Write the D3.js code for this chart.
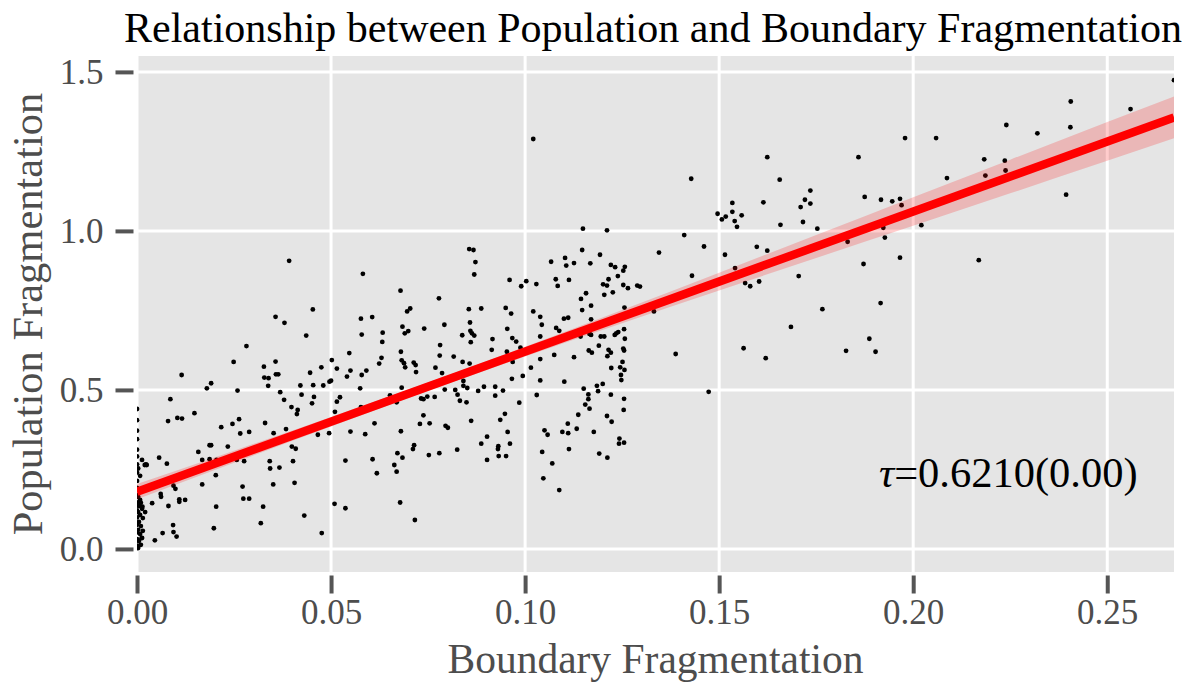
<!DOCTYPE html>
<html>
<head>
<meta charset="utf-8">
<script src="https://cdn.jsdelivr.net/npm/d3@7"></script>
<style>
  body { margin: 0; background: #fff; }
  svg { display: block; font-family: "Liberation Serif", "Times New Roman", serif; }
</style>
</head>
<body>
<svg id="chart" width="1193" height="684"></svg>
<script>
// observations: [boundary fragmentation, population fragmentation]
const points = [
  [0.0392,0.906],[0.0453,0.753],[0.0357,0.730],[0.0380,0.711],[0.0436,0.671],[0.0282,0.638],
  [0.0249,0.588],[0.0357,0.589],[0.0327,0.573],[0.0502,0.594],[0.0475,0.571],[0.0446,0.554],
  [0.0328,0.539],[0.0339,0.537],[0.0358,0.549],[0.0364,0.549],[0.0515,0.567],[0.0115,0.547],
  [0.0191,0.521],[0.0180,0.505],[0.0338,0.513],[0.0421,0.514],[0.0454,0.515],[0.0480,0.514],
  [0.0496,0.526],[0.0500,0.529],[0.0259,0.498],[0.0369,0.493],[0.0379,0.469],[0.0424,0.485],
  [0.0456,0.478],[0.0451,0.458],[0.0515,0.463],[0.0086,0.471],[0.0398,0.446],[0.0414,0.437],
  [0.0412,0.424],[0.0148,0.427],[0.0080,0.402],[0.0104,0.412],[0.0116,0.410],[0.0217,0.383],
  [0.0246,0.393],[0.0263,0.408],[0.0266,0.363],[0.0289,0.368],[0.0330,0.396],[0.0352,0.364],
  [0.0384,0.377],[0.0466,0.359],[0.0495,0.364],[0.0510,0.431],[0.0187,0.326],[0.0191,0.326],
  [0.0234,0.322],[0.0158,0.305],[0.0168,0.280],[0.0187,0.282],[0.0205,0.280],[0.0257,0.280],
  [0.0276,0.276],[0.0342,0.276],[0.0343,0.253],[0.0367,0.256],[0.0399,0.322],[0.0409,0.315],
  [0.0402,0.276],[0.0077,0.268],[0.0057,0.287],[0.0013,0.280],[0.0020,0.264],[0.0025,0.264],
  [0.0003,0.253],[0.0008,0.230],[0.0203,0.232],[0.0168,0.203],[0.0094,0.199],[0.0099,0.189],
  [0.0272,0.196],[0.0351,0.203],[0.0406,0.208],[0.0061,0.173],[0.0062,0.164],[0.0039,0.144],
  [0.0081,0.135],[0.0109,0.156],[0.0109,0.148],[0.0124,0.154],[0.0204,0.133],[0.0274,0.158],
  [0.0289,0.158],[0.0325,0.133],[0.0509,0.142],[0.0431,0.105],[0.0319,0.081],[0.0198,0.065],
  [0.0093,0.075],[0.0094,0.053],[0.0102,0.039],[0.0066,0.050],[0.0046,0.027],[0.0476,0.050],
  [0.0003,0.164],[0.0008,0.154],[0.0010,0.145],[0.0005,0.135],[0.0013,0.126],[0.0003,0.116],
  [0.0008,0.107],[0.0015,0.097],[0.0005,0.085],[0.0010,0.072],[0.0003,0.060],[0.0008,0.047],
  [0.0013,0.035],[0.0005,0.025],[0.0010,0.013],[0.0003,0.003],[0.0015,0.057],[0.0021,0.116],
  [0.0023,0.266],[0.0014,0.133],[0.0012,0.034],
  [0,0.440],[0,0.405],[0,0.372],[0,0.345],[0,0.312],[0,0.291],[0,0.266],[0,0.240],[0,0.214],
  [0,0.192],[0,0.170],[0,0.146],[0,0.121],[0,0.099],[0,0.076],[0,0.052],[0,0.031],[0,0.010],
  [0.0856,0.943],[0.0867,0.940],[0.0872,0.902],[0.0869,0.863],[0.0582,0.865],[0.0679,0.812],
  [0.0960,0.846],[0.0990,0.826],[0.1003,0.842],[0.1029,0.833],[0.0778,0.788],[0.0577,0.724],
  [0.0606,0.729],[0.0696,0.747],[0.0704,0.756],[0.0855,0.754],[0.0887,0.756],[0.0950,0.758],
  [0.0964,0.740],[0.1021,0.747],[0.0684,0.699],[0.0690,0.678],[0.0699,0.685],[0.0740,0.693],
  [0.0792,0.705],[0.0858,0.712],[0.0859,0.686],[0.0863,0.678],[0.0869,0.671],[0.0838,0.672],
  [0.0860,0.650],[0.0954,0.692],[0.0967,0.663],[0.0977,0.652],[0.0579,0.674],[0.0633,0.680],
  [0.0632,0.651],[0.0916,0.660],[0.0914,0.626],[0.0781,0.641],[0.0780,0.608],[0.0680,0.620],
  [0.0682,0.593],[0.0688,0.584],[0.0691,0.571],[0.0713,0.586],[0.0718,0.578],[0.0719,0.556],
  [0.0547,0.616],[0.0630,0.601],[0.0624,0.583],[0.0550,0.561],[0.0541,0.542],[0.0591,0.561],
  [0.0579,0.547],[0.0816,0.605],[0.0839,0.588],[0.0857,0.583],[0.0769,0.570],[0.0786,0.553],
  [0.0953,0.620],[0.0968,0.588],[0.0988,0.633],[0.1015,0.570],[0.0994,0.544],[0.0966,0.535],
  [0.0575,0.505],[0.0682,0.507],[0.0652,0.483],[0.0669,0.461],[0.0732,0.473],[0.0738,0.471],
  [0.0748,0.479],[0.0767,0.478],[0.0793,0.501],[0.0820,0.500],[0.0826,0.485],[0.0832,0.466],
  [0.0841,0.528],[0.0841,0.513],[0.0851,0.506],[0.0849,0.461],[0.0879,0.497],[0.0894,0.510],
  [0.0923,0.510],[0.0923,0.482],[0.0943,0.498],[0.1030,0.484],[0.0985,0.460],[0.0523,0.477],
  [0.0577,0.446],[0.0738,0.420],[0.0612,0.395],[0.0729,0.393],[0.0754,0.395],[0.0795,0.387],
  [0.0801,0.381],[0.0680,0.370],[0.0550,0.369],[0.0588,0.361],[0.0861,0.403],[0.0936,0.406],
  [0.0948,0.425],[0.0955,0.368],[0.0961,0.331],[0.0902,0.353],[0.0887,0.331],[0.0931,0.323],
  [0.0930,0.314],[0.0932,0.292],[0.0951,0.292],[0.0902,0.280],[0.0714,0.326],[0.0711,0.314],
  [0.0752,0.295],[0.0779,0.301],[0.0825,0.312],[0.0671,0.301],[0.0684,0.287],[0.0663,0.264],
  [0.0669,0.243],[0.0607,0.282],[0.0618,0.238],[0.0537,0.278],[0.0678,0.146],[0.0537,0.128],
  [0.0716,0.091],[0.1021,1.289],
  [0.1149,1.007],[0.1211,1.002],[0.1147,0.940],[0.1193,0.925],[0.1067,0.903],[0.1103,0.915],
  [0.1106,0.891],[0.1126,0.899],[0.1168,0.898],[0.1221,0.893],[0.1232,0.886],[0.1257,0.887],
  [0.1253,0.875],[0.1239,0.858],[0.1079,0.848],[0.1084,0.827],[0.1113,0.846],[0.1215,0.848],
  [0.1201,0.832],[0.1211,0.828],[0.1253,0.830],[0.1265,0.820],[0.1289,0.828],[0.1226,0.807],
  [0.1204,0.799],[0.1157,0.804],[0.1144,0.786],[0.1147,0.751],[0.1170,0.765],[0.1256,0.759],
  [0.1039,0.730],[0.1043,0.705],[0.1100,0.724],[0.1111,0.727],[0.1170,0.722],[0.1080,0.695],
  [0.1088,0.686],[0.1039,0.668],[0.1143,0.668],[0.1166,0.676],[0.1170,0.673],[0.1195,0.668],
  [0.1204,0.668],[0.1235,0.678],[0.1240,0.682],[0.1231,0.673],[0.1255,0.691],[0.1257,0.661],
  [0.1190,0.639],[0.1164,0.624],[0.1172,0.617],[0.1215,0.626],[0.1221,0.617],[0.1212,0.606],
  [0.1253,0.630],[0.1255,0.624],[0.1075,0.610],[0.1126,0.603],[0.1039,0.597],[0.1251,0.588],
  [0.1245,0.571],[0.1256,0.563],[0.1222,0.569],[0.1247,0.547],[0.1248,0.531],[0.1101,0.526],
  [0.1039,0.530],[0.1200,0.519],[0.1185,0.513],[0.1188,0.496],[0.1151,0.504],[0.1163,0.486],
  [0.1163,0.471],[0.1221,0.485],[0.1255,0.472],[0.1254,0.437],[0.1155,0.454],[0.1166,0.441],
  [0.1137,0.422],[0.1211,0.418],[0.1223,0.400],[0.1110,0.394],[0.1133,0.378],[0.1096,0.368],
  [0.1111,0.364],[0.1050,0.373],[0.1058,0.359],[0.1177,0.368],[0.1243,0.347],[0.1242,0.331],
  [0.1255,0.334],[0.1113,0.314],[0.1044,0.305],[0.1191,0.300],[0.1212,0.287],[0.1070,0.269],
  [0.1047,0.222],[0.1088,0.185],
  [0.1624,1.232],[0.1859,1.232],[0.1428,1.164],[0.1656,1.161],[0.1735,1.127],[0.1721,1.098],
  [0.1710,1.075],[0.1735,1.086],[0.1875,1.107],[0.1917,1.098],[0.1946,1.093],[0.1966,1.101],
  [0.1614,1.090],[0.1534,1.088],[0.1534,1.060],[0.1517,1.045],[0.1507,1.036],[0.1496,1.054],
  [0.1558,1.049],[0.1540,1.031],[0.1546,1.013],[0.1716,1.028],[0.1658,1.019],[0.1753,1.007],
  [0.1923,1.010],[0.1927,0.979],[0.1410,0.987],[0.1461,0.951],[0.1831,0.966],[0.1597,0.950],
  [0.1624,0.938],[0.1345,0.932],[0.1515,0.925],[0.1966,0.916],[0.1872,0.896],[0.1541,0.883],
  [0.1430,0.859],[0.1705,0.858],[0.1567,0.836],[0.1580,0.826],[0.1603,0.841],[0.1296,0.825],
  [0.1766,0.754],[0.1916,0.773],[0.1332,0.747],[0.1685,0.698],[0.1887,0.661],[0.1563,0.631],
  [0.1827,0.623],[0.1903,0.620],[0.1388,0.613],[0.1620,0.600],[0.1473,0.494],
  [0.2672,1.474],[0.2560,1.383],[0.2406,1.407],[0.2405,1.326],[0.2240,1.333],[0.2320,1.307],
  [0.1979,1.292],[0.2059,1.292],[0.2183,1.225],[0.2236,1.221],[0.2238,1.190],[0.2186,1.174],
  [0.2087,1.166],[0.2394,1.114],[0.1970,1.081],[0.2021,1.018],[0.2169,0.908]
];

// fitted linear trend
const fitIntercept = 0.180;
const fitSlope = 4.405;
// confidence band half-widths along x
const bandX    = [0, 0.025, 0.05, 0.075, 0.10, 0.125, 0.15, 0.175, 0.20, 0.225, 0.25, 0.2672];
const bandHalf = [0.024, 0.019, 0.015, 0.013, 0.015, 0.021, 0.028, 0.036, 0.045, 0.053, 0.061, 0.066];

const xTicks = [0, 0.05, 0.10, 0.15, 0.20, 0.25];
const yTicks = [0, 0.5, 1.0, 1.5];
const tauLabel = '0.6210(0.00)';

const svg = d3.select('#chart');
const panel = { left: 137, right: 1174, top: 56, bottom: 572 };
const grey = '#4d4d4d';

const x = d3.scaleLinear().domain([0, 0.2672]).range([panel.left, panel.right]);
const y = d3.scaleLinear().domain([-0.0725, 1.55]).range([panel.bottom, panel.top]);

svg.append('defs').append('clipPath').attr('id', 'clip')
    .append('rect')
    .attr('x', panel.left).attr('y', panel.top)
    .attr('width', panel.right - panel.left).attr('height', panel.bottom - panel.top);

svg.append('rect')
    .attr('x', panel.left).attr('y', panel.top)
    .attr('width', panel.right - panel.left).attr('height', panel.bottom - panel.top)
    .attr('fill', '#e5e5e5');

const plot = svg.append('g').attr('clip-path', 'url(#clip)');

// grid
plot.selectAll('.gx').data(xTicks).enter().append('line')
    .attr('x1', d => x(d)).attr('x2', d => x(d))
    .attr('y1', panel.top).attr('y2', panel.bottom)
    .attr('stroke', '#fff').attr('stroke-width', 3);
plot.selectAll('.gy').data(yTicks).enter().append('line')
    .attr('y1', d => y(d)).attr('y2', d => y(d))
    .attr('x1', panel.left).attr('x2', panel.right)
    .attr('stroke', '#fff').attr('stroke-width', 3);

// points
plot.selectAll('circle').data(points).enter().append('circle')
    .attr('cx', d => x(d[0]))
    .attr('cy', d => y(d[1]))
    .attr('r', 2.4)
    .attr('fill', '#000');

// confidence band
const band = bandX.map((bx, i) => ({ x: bx, fit: fitIntercept + fitSlope * bx, h: bandHalf[i] }));
plot.append('path')
    .datum(band)
    .attr('d', d3.area()
        .x(d => x(d.x))
        .y0(d => y(d.fit - d.h))
        .y1(d => y(d.fit + d.h))
        .curve(d3.curveMonotoneX))
    .attr('fill', 'red')
    .attr('fill-opacity', 0.2);

plot.append('line')
    .attr('x1', x(0)).attr('y1', y(fitIntercept))
    .attr('x2', x(0.2672)).attr('y2', y(fitIntercept + fitSlope * 0.2672))
    .attr('stroke', 'red').attr('stroke-width', 8.5);

// axes
const yAxis = svg.append('g')
    .attr('transform', `translate(${panel.left - 3.5},0)`)
    .call(d3.axisLeft(y).tickValues(yTicks).tickFormat(d3.format('.1f')).tickSize(18).tickPadding(12));
const xAxis = svg.append('g')
    .attr('transform', `translate(0,${panel.bottom + 3.5})`)
    .call(d3.axisBottom(x).tickValues(xTicks).tickFormat(d3.format('.2f')).tickSize(18).tickPadding(6));

[xAxis, yAxis].forEach(g => {
    g.select('.domain').remove();
    g.selectAll('line').attr('stroke', '#555').attr('stroke-width', 4);
    g.selectAll('text')
        .attr('fill', grey)
        .style('font-family', '"Liberation Serif", "Times New Roman", serif')
        .style('font-size', '35px');
});

// titles
svg.append('text')
    .attr('x', 653).attr('y', 42)
    .attr('text-anchor', 'middle')
    .attr('fill', '#000')
    .style('font-size', '42px')
    .text('Relationship between Population and Boundary Fragmentation');

svg.append('text')
    .attr('x', (panel.left + panel.right) / 2).attr('y', 673)
    .attr('text-anchor', 'middle')
    .attr('fill', grey)
    .style('font-size', '41.5px')
    .text('Boundary Fragmentation');

svg.append('text')
    .attr('transform', `translate(42,${(panel.top + panel.bottom) / 2}) rotate(-90)`)
    .attr('text-anchor', 'middle')
    .attr('fill', grey)
    .style('font-size', '42.5px')
    .text('Population Fragmentation');

// annotation
const ann = svg.append('text')
    .attr('x', x(0.2245)).attr('y', y(0.195))
    .attr('text-anchor', 'middle')
    .attr('fill', '#000')
    .style('font-size', '42.5px');
ann.append('tspan').style('font-style', 'italic').text('τ');
ann.append('tspan').text('=' + tauLabel);
</script>
</body>
</html>
